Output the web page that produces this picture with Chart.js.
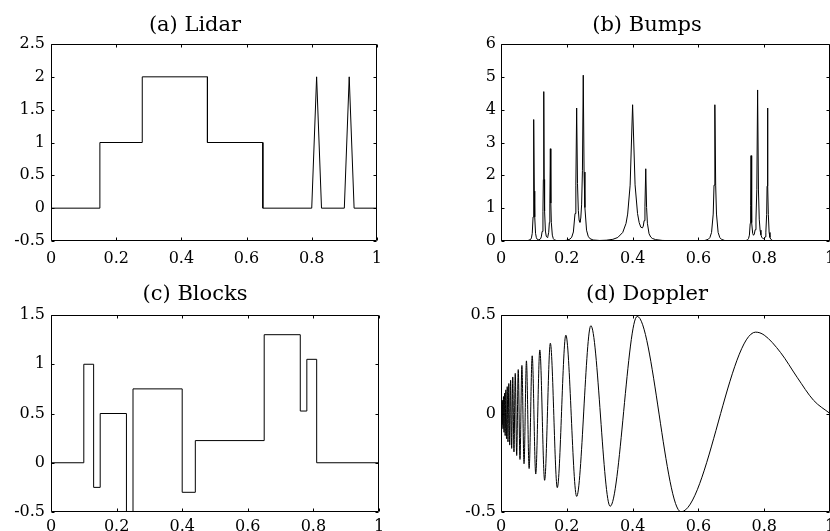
<!DOCTYPE html>
<html>
<head>
<meta charset="utf-8">
<script src="https://cdn.jsdelivr.net/npm/chart.js@4.4.1/dist/chart.umd.min.js"></script>
<style>
  html, body { margin: 0; padding: 0; width: 830px; height: 531px; overflow: hidden; background: #fff; }
  canvas { position: absolute; }
</style>
</head>
<body>
<canvas id="lidar"></canvas>
<canvas id="bumps"></canvas>
<canvas id="blocks"></canvas>
<canvas id="doppler"></canvas>
<script>
// ---- data ----
const xTicks = [0, 0.2, 0.4, 0.6, 0.8, 1];

// (a) Lidar: corners of the piecewise curve
const lidarX = [0, 0.15, 0.15, 0.28, 0.28, 0.48, 0.48, 0.65, 0.65, 0.80, 0.815, 0.83, 0.90, 0.915, 0.93, 1];
const lidarY = [0, 0, 1, 1, 2, 2, 1, 1, 0, 0, 2, 0, 0, 2, 0, 0];

// (b) Bumps: sampled along the trace
const bumpsX = [0, 0.07, 0.08, 0.09, 0.0925, 0.095, 0.0975, 0.09875, 0.1, 0.10125, 0.1025, 0.105, 0.1075, 0.11, 0.115,
  0.12, 0.1225, 0.125, 0.1275, 0.12875, 0.13, 0.13125, 0.1325, 0.135, 0.1375, 0.14, 0.1425, 0.145, 0.147, 0.1485,
  0.15, 0.1515, 0.153, 0.156, 0.159, 0.162, 0.17, 0.18, 0.19, 0.2, 0.21, 0.215, 0.22, 0.225, 0.2275,
  0.23, 0.2325, 0.235, 0.2375, 0.24, 0.2425, 0.245, 0.2475, 0.25, 0.2525, 0.255, 0.26, 0.265, 0.27, 0.28,
  0.3, 0.32, 0.34, 0.355, 0.37, 0.38, 0.385, 0.3925, 0.4, 0.4075, 0.415, 0.42, 0.425, 0.43, 0.4325,
  0.435, 0.4375, 0.44, 0.4425, 0.445, 0.45, 0.455, 0.46, 0.47, 0.49, 0.52, 0.56, 0.6, 0.62, 0.63,
  0.635, 0.64, 0.645, 0.6475, 0.65, 0.6525, 0.655, 0.66, 0.665, 0.67, 0.68, 0.7, 0.72, 0.74, 0.745,
  0.75, 0.7525, 0.755, 0.7575, 0.75875, 0.76, 0.76125, 0.7625, 0.765, 0.7675, 0.77, 0.7725, 0.775, 0.7775, 0.78,
  0.7825, 0.785, 0.7875, 0.79, 0.7925, 0.795, 0.7975, 0.8, 0.8025, 0.805, 0.8075, 0.80875, 0.81, 0.81125, 0.8125,
  0.815, 0.8175, 0.82, 0.825, 0.83, 0.85, 1];
const bumpsY = [0, 0.002, 0.006, 0.047, 0.095, 0.233, 0.731, 1.516, 3.7, 1.52, 0.734, 0.235, 0.10, 0.053, 0.034,
  0.064, 0.124, 0.291, 0.906, 1.87, 4.55, 1.875, 0.911, 0.303, 0.148, 0.111, 0.139, 0.266, 0.565, 1.155,
  2.81, 1.153, 0.558, 0.178, 0.074, 0.036, 0.01, 0.006, 0.01, 0.022, 0.06, 0.118, 0.275, 0.836, 1.70,
  4.05, 1.75, 0.93, 0.63, 0.57, 0.70, 1.10, 2.14, 5.05, 2.10, 1.02, 0.33, 0.145, 0.074, 0.03,
  0.016, 0.024, 0.051, 0.107, 0.26, 0.535, 0.82, 1.70, 4.15, 1.71, 0.835, 0.56, 0.42, 0.40, 0.455,
  0.62, 1.06, 2.2, 1.02, 0.54, 0.22, 0.121, 0.078, 0.042, 0.018, 0.007, 0.003, 0.004, 0.017, 0.052,
  0.106, 0.26, 0.82, 1.70, 4.15, 1.70, 0.82, 0.26, 0.106, 0.051, 0.016, 0.0035, 0.0023, 0.008, 0.016,
  0.041, 0.079, 0.178, 0.535, 1.09, 2.6, 1.10, 0.558, 0.23, 0.174, 0.212, 0.344, 0.67, 1.56, 4.6,
  1.555, 0.665, 0.33, 0.187, 0.117, 0.083, 0.072, 0.081, 0.126, 0.269, 0.81, 1.67, 4.05, 1.67, 0.81,
  0.26, 0.109, 0.053, 0.018, 0.008, 0.001, 0];

// (c) Blocks: jump positions and the level after each jump
const blocksX = [0, 0.1, 0.13, 0.15, 0.23, 0.25, 0.40, 0.44, 0.65, 0.76, 0.78, 0.81, 1];
const blocksY = [0, 1, -0.25, 0.5, -0.5, 0.75, -0.3, 0.225, 1.3, 0.525, 1.05, 0, 0];

// (d) Doppler: peaks and troughs of the oscillation, then the tail
const dopplerX = [0, 0.0006, 0.0019, 0.0032, 0.0045, 0.006, 0.0075, 0.0092, 0.0109, 0.0127, 0.0146, 0.0167,
  0.0189, 0.0212, 0.0237, 0.0264, 0.0292, 0.0324, 0.0357, 0.0394, 0.0433, 0.0477, 0.0524, 0.0577, 0.0635,
  0.07, 0.0773, 0.0855, 0.0948, 0.1056, 0.118, 0.1326, 0.15, 0.1711, 0.1971, 0.23, 0.2731, 0.3318, 0.414,
  0.547, 0.774, 0.8, 0.85, 0.9, 0.95, 1];
const dopplerY = [0, -0.0245, 0.0435, -0.0565, 0.067, -0.0773, 0.0863, -0.0954, 0.1038, -0.112, 0.12, -0.1281,
  0.1362, -0.144, 0.1521, -0.1603, 0.1684, -0.1771, 0.1855, -0.1945, 0.2035, -0.2131, 0.2228, -0.2332, 0.2439,
  -0.2551, 0.2671, -0.2796, 0.2929, -0.3073, 0.3226, -0.3391, 0.357, -0.3766, 0.3978, -0.4208, 0.4456, -0.471, 0.493,
  -0.499, 0.413, 0.398, 0.309, 0.184, 0.067, 0];

Chart.defaults.font.family = "'DejaVu Serif', serif";
Chart.defaults.color = '#000';

// MATLAB-style box with inward ticks on all four sides
const boxTicks = {
  id: 'boxTicks',
  afterDraw(chart) {
    const { ctx, chartArea: a, scales } = chart;
    const L = Math.round(a.left) + 0.5, R = Math.round(a.right) - 0.5;
    const T = Math.round(a.top) + 0.5, B = Math.round(a.bottom) - 0.5;
    const len = 3;
    ctx.save();
    ctx.strokeStyle = '#000';
    ctx.lineWidth = 1;
    ctx.beginPath();
    ctx.rect(L, T, R - L, B - T);
    scales.x.ticks.forEach(t => {
      const px = Math.round(scales.x.getPixelForValue(t.value)) + 0.5;
      ctx.moveTo(px, B); ctx.lineTo(px, B - len);
      ctx.moveTo(px, T); ctx.lineTo(px, T + len);
    });
    scales.y.ticks.forEach(t => {
      const py = Math.round(scales.y.getPixelForValue(t.value)) + 0.5;
      ctx.moveTo(L, py); ctx.lineTo(L + len, py);
      ctx.moveTo(R, py); ctx.lineTo(R - len, py);
    });
    ctx.stroke();
    ctx.restore();
  }
};

const fmt = v => String(+v.toFixed(2));

function makePanel(id, p) {
  const el = document.getElementById(id);
  el.width = p.w; el.height = p.h;
  el.style.left = p.left + 'px'; el.style.top = p.top + 'px';
  const points = p.xs.map((x, i) => ({ x: x, y: p.ys[i] }));
  return new Chart(el, {
    type: 'line',
    data: {
      datasets: [{
        data: points,
        borderColor: '#000',
        borderWidth: 1,
        pointRadius: 0,
        fill: false,
        stepped: p.stepped || false,
        cubicInterpolationMode: p.smooth ? 'monotone' : 'default',
        tension: 0
      }]
    },
    options: {
      responsive: false,
      animation: false,
      events: [],
      layout: { padding: { left: p.padLeft, right: p.padRight, top: 0, bottom: 0 } },
      plugins: {
        legend: { display: false },
        tooltip: { enabled: false },
        title: {
          display: true,
          text: p.title,
          font: { size: 21, weight: 'normal', lineHeight: 1.2 },
          padding: { top: 13, bottom: p.titleGap }
        }
      },
      scales: {
        x: {
          type: 'linear', min: 0, max: 1,
          afterBuildTicks: s => { s.ticks = xTicks.map(v => ({ value: v })); },
          afterFit: s => { s.height = p.xAxisH; },
          grid: { display: false, drawTicks: false },
          border: { display: false },
          ticks: { font: { size: 16 }, padding: p.xPad, maxRotation: 0, autoSkip: false, callback: fmt }
        },
        y: {
          type: 'linear', min: p.yMin, max: p.yMax,
          afterBuildTicks: s => { s.ticks = p.yTicks.map(v => ({ value: v })); },
          afterFit: s => { s.width = p.yAxisW; },
          grid: { display: false, drawTicks: false },
          border: { display: false },
          ticks: { font: { size: 16 }, padding: p.yPad, autoSkip: false, callback: fmt }
        }
      }
    },
    plugins: [boxTicks]
  });
}

makePanel('lidar', {
  title: '(a) Lidar', xs: lidarX, ys: lidarY,
  left: 0, top: 0, w: 390, h: 265, padLeft: 11, padRight: 11, yAxisW: 40, yPad: 6, xAxisH: 24, xPad: 8, titleGap: 5.8,
  yMin: -0.5, yMax: 2.5, yTicks: [-0.5, 0, 0.5, 1, 1.5, 2, 2.5]
});
makePanel('bumps', {
  title: '(b) Bumps', xs: bumpsX, ys: bumpsY,
  left: 450, top: 0, w: 396, h: 265, padLeft: 14, padRight: 16, yAxisW: 37, yPad: 5, xAxisH: 24, xPad: 8, titleGap: 5.8,
  yMin: 0, yMax: 6, yTicks: [0, 1, 2, 3, 4, 5, 6]
});
makePanel('blocks', {
  title: '(c) Blocks', xs: blocksX, ys: blocksY, stepped: 'before',
  left: 0, top: 269, w: 390, h: 262, padLeft: 11, padRight: 11, yAxisW: 40, yPad: 6, xAxisH: 19, xPad: 5, titleGap: 7.8,
  yMin: -0.5, yMax: 1.5, yTicks: [-0.5, 0, 0.5, 1, 1.5]
});
makePanel('doppler', {
  title: '(d) Doppler', xs: dopplerX, ys: dopplerY, smooth: true,
  left: 450, top: 269, w: 396, h: 262, padLeft: 14, padRight: 16, yAxisW: 37, yPad: 5, xAxisH: 19, xPad: 5, titleGap: 7.8,
  yMin: -0.5, yMax: 0.5, yTicks: [-0.5, 0, 0.5]
});
</script>
</body>
</html>
